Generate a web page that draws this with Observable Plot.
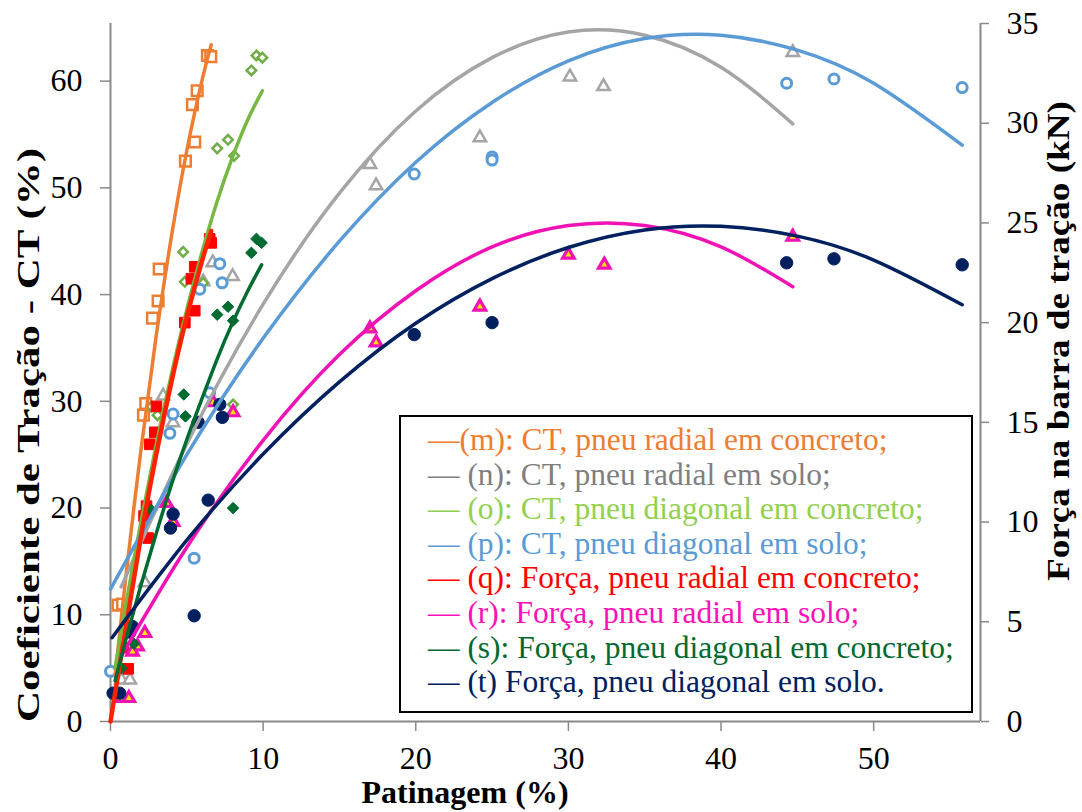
<!DOCTYPE html>
<html>
<head>
<meta charset="utf-8">
<script src="https://cdn.jsdelivr.net/npm/d3@7"></script>
<script src="https://cdn.jsdelivr.net/npm/@observablehq/plot@0.6"></script>
<style>
  body { margin: 0; background: #fff; }
  #wrap { position: relative; width: 1082px; height: 812px; overflow: hidden; background: #fff; }
  #wrap svg { position: absolute; left: 0; top: 0; }
  #legend {
    position: absolute; left: 399px; top: 415px; width: 574px; height: 298px;
    box-sizing: border-box; border: 2px solid #000; background: #fff;
    padding: 6px 0 0 27px;
    font-family: "Liberation Serif", "Times New Roman", serif; font-size: 31.5px; line-height: 34.6px;
    white-space: nowrap;
  }
</style>
</head>
<body>
<div id="wrap"><div id="legend"></div></div>
<script>
// ---------- axis ticks & titles ----------
const xTicks = [0, 10, 20, 30, 40, 50];
const ctTicks = [0, 10, 20, 30, 40, 50, 60];
const forceTicks = [0, 5, 10, 15, 20, 25, 30, 35];
const X_MAX = 57, CT_MAX = 65.4, FORCE_MAX = 35;
const xTitle = "Patinagem (%)";
const yLeftTitle = "Coeficiente de Tração - CT (%)";
const yRightTitle = "Força na barra de tração (kN)";

// ---------- legend labels ----------
const legendLabels = [
  "—(m): CT, pneu radial em concreto;",
  "— (n): CT, pneu radial em solo;",
  "— (o): CT, pneu diagonal em concreto;",
  "— (p): CT, pneu diagonal em solo;",
  "— (q): Força, pneu radial em concreto;",
  "— (r): Força, pneu radial em solo;",
  "— (s): Força, pneu diagonal em concreto;",
  "— (t) Força, pneu diagonal em solo."
];

// ---------- measured points (Patinagem %, CT % or Força kN) ----------
const mX = [6.35, 6.57, 5.68, 5.37, 5.52, 4.91, 3.19, 3.12, 2.75, 2.31, 2.16, 0.5, 0.79];
const mY = [62.4, 62.3, 59.1, 57.8, 54.3, 52.5, 42.4, 39.4, 37.8, 29.8, 28.7, 10.9, 11.0];

const nX = [44.7, 30.1, 32.3, 24.2, 17.0, 17.4, 6.7, 8.0, 6.07, 4.1, 3.45, 2.25, 0.72, 1.27];
const nY = [62.7, 60.4, 59.5, 54.7, 52.2, 50.2, 43.0, 41.7, 41.2, 28.0, 30.5, 13.0, 3.9, 3.9];

const oX = [9.56, 9.95, 9.23, 6.99, 7.7, 8.1, 4.76, 4.87, 6.07, 2.68, 3.08, 8.03];
const oY = [62.4, 62.2, 61.0, 53.7, 54.5, 53.0, 44.0, 41.2, 41.1, 29.5, 28.7, 29.7];

const pX = [44.3, 47.4, 55.8, 25.0, 25.0, 19.9, 7.16, 7.31, 5.85, 6.5, 4.1, 3.89, 5.48, 0.0];
const pY = [59.8, 60.2, 59.4, 52.9, 52.6, 51.3, 42.9, 41.1, 40.5, 30.8, 28.8, 27.0, 15.3, 4.7];

const qX = [6.5, 6.6, 5.52, 5.3, 5.52, 4.87, 3.01, 2.9, 2.57, 2.36, 2.2, 2.46, 1.16, 0.83];
const qY = [24.2, 24.0, 22.8, 22.2, 20.6, 20.0, 15.8, 14.5, 13.9, 10.8, 10.3, 9.2, 2.64, 3.7];

const rX = [44.7, 30.0, 32.35, 24.2, 17.0, 17.4, 8.03, 6.72, 3.67, 4.1, 2.25, 1.77, 1.44, 0.65, 1.2];
const rY = [24.3, 23.4, 22.9, 20.8, 19.7, 19.0, 15.5, 16.0, 10.95, 10.0, 4.43, 3.76, 3.5, 1.17, 1.17];

const sX = [9.56, 9.9, 9.23, 6.99, 7.7, 8.03, 4.8, 4.91, 2.68, 8.03, 1.53, 0.72];
const sY = [24.2, 24.0, 23.5, 20.4, 20.8, 20.1, 16.4, 15.3, 10.6, 10.7, 3.9, 2.67];

const tX = [44.3, 47.4, 55.8, 25.0, 19.9, 7.16, 7.33, 5.74, 6.4, 4.1, 3.93, 5.48, 1.44, 1.27, 0.17, 0.6];
const tY = [23.0, 23.2, 22.9, 20.0, 19.4, 15.9, 15.25, 15.0, 11.1, 10.4, 9.7, 5.3, 4.76, 4.48, 1.42, 1.42];

// ---------- trend curves ----------
const mCurveX = [0.3, 1, 2, 3, 4, 5, 6, 6.6];
const mCurveY = [4.3, 13.5, 25.5, 36.2, 45.5, 53.5, 60.1, 63.4];
const nCurveX = [0.7, 5, 10, 15, 20, 25, 30, 35, 40, 44.7];
const nCurveY = [12.6, 26.0, 39.1, 49.5, 57.2, 62.2, 64.6, 64.3, 61.3, 56.0];
const oCurveX = [0.3, 1, 2, 3, 4, 5, 6, 7, 8, 9, 9.95];
const oCurveY = [5.0, 10.9, 18.75, 26.0, 32.6, 38.6, 44.0, 48.8, 52.9, 56.4, 59.1];
const pCurveX = [0, 5, 10, 15, 20, 25, 30, 35, 40, 45, 50, 55.8];
const pCurveY = [12.4, 25.0, 35.9, 45.0, 52.4, 58.0, 61.9, 64.0, 64.3, 62.9, 59.8, 54.0];
const qCurveX = [0, 1, 2, 3, 4, 5, 6, 6.6];
const qCurveY = [0, 4.7, 9.3, 13.4, 17.05, 20.3, 23.1, 24.6];
const rCurveX = [0.65, 5, 10, 15, 20, 25, 30, 35, 40, 44.7];
const rCurveY = [3.2, 8.74, 14.1, 18.4, 21.6, 23.8, 24.87, 24.87, 23.8, 21.8];
const sCurveX = [0.3, 1, 2, 3, 4, 5, 6, 7, 8, 9, 9.9];
const sCurveY = [2.05, 4.08, 6.84, 9.44, 11.9, 14.14, 16.2, 18.2, 20.0, 21.6, 22.9];
const tCurveX = [0.1, 5, 10, 15, 20, 25, 30, 35, 40, 45, 50, 55.8];
const tCurveY = [4.2, 9.09, 13.41, 17.03, 19.97, 22.21, 23.77, 24.65, 24.83, 24.34, 23.14, 20.9];

// ---------- styling per series ----------
const series = [
  {axis: "ct",    px: mX, py: mY, cx: mCurveX, cy: mCurveY, symbol: "square",   r: 6.0, fill: "white",   stroke: "#ED7D31", sw: 2.5, line: "#ED7D31", lw: 3.5, legend: "#ED7D31"},
  {axis: "ct",    px: nX, py: nY, cx: nCurveX, cy: nCurveY, symbol: "triangle", r: 4.6, fill: "white",   stroke: "#A5A5A5", sw: 2.5, line: "#A5A5A5", lw: 3.5, legend: "#7F7F7F"},
  {axis: "ct",    px: oX, py: oY, cx: oCurveX, cy: oCurveY, symbol: "diamond2", r: 4.3, fill: "white",   stroke: "#70AD47", sw: 2.5, line: "#77B843", lw: 3.5, legend: "#92D050"},
  {axis: "ct",    px: pX, py: pY, cx: pCurveX, cy: pCurveY, symbol: "circle",   r: 5.0, fill: "white",   stroke: "#5B9BD5", sw: 3,   line: "#5B9BD5", lw: 3.5, legend: "#5B9BD5"},
  {axis: "force", px: qX, py: qY, cx: qCurveX, cy: qCurveY, symbol: "square",   r: 6.0, fill: "#FF0000", stroke: "#FF0000", sw: 1,   line: "#FF2200", lw: 4.5, legend: "#FF0000"},
  {axis: "force", px: rX, py: rY, cx: rCurveX, cy: rCurveY, symbol: "triangle", r: 4.3, fill: "#FFE000", stroke: "#F012B4", sw: 3.2, line: "#F012B4", lw: 3.5, legend: "#FF10B8"},
  {axis: "force", px: sX, py: sY, cx: sCurveX, cy: sCurveY, symbol: "diamond2", r: 5.2, fill: "#006B30", stroke: "#006B30", sw: 1,   line: "#006B30", lw: 3.5, legend: "#00692F"},
  {axis: "force", px: tX, py: tY, cx: tCurveX, cy: tCurveY, symbol: "circle",   r: 6.2, fill: "#002060", stroke: "#002060", sw: 1,   line: "#002060", lw: 3.5, legend: "#002060"}
];

const K = CT_MAX / FORCE_MAX; // CT units per kN on the shared vertical range
const conv = (s, v) => s.axis === "force" ? v * K : v;

const dotMarks = series.map(s => Plot.dot(
  s.px.map((x, i) => ({x, y: conv(s, s.py[i])})),
  {x: "x", y: "y", symbol: () => s.symbol, r: s.r, fill: s.fill, stroke: s.stroke, strokeWidth: s.sw}
));
const lineMarks = series.map(s => Plot.line(
  s.cx.map((x, i) => ({x, y: conv(s, s.cy[i])})),
  {x: "x", y: "y", stroke: s.line, strokeWidth: s.lw, curve: "natural"}
));

const axisGrey = "#898989";
const chart = Plot.plot({
  width: 1082, height: 812,
  marginLeft: 110, marginRight: 102, marginTop: 23, marginBottom: 91,
  x: {domain: [0, X_MAX]},
  y: {domain: [0, CT_MAX]},
  symbol: {type: "identity"},
  style: {fontFamily: "'Liberation Serif', 'Times New Roman', serif", fontSize: "32px", color: "black", background: "white", overflow: "visible"},
  marks: [
    Plot.axisX({ticks: xTicks, tickSize: 10, tickPadding: 15, stroke: axisGrey, strokeWidth: 1.5, fill: "black", label: null}),
    Plot.axisY({ticks: ctTicks, anchor: "left", tickSize: 10, tickPadding: 18, stroke: axisGrey, strokeWidth: 1.5, fill: "black", label: null}),
    Plot.axisY({ticks: forceTicks.map(v => v * K), anchor: "right", tickSize: 8, tickPadding: 18, stroke: axisGrey, strokeWidth: 1.5, fill: "black", label: null, tickFormat: d => String(Math.round(d / K))}),
    Plot.ruleX([0], {stroke: axisGrey, strokeWidth: 2}),
    Plot.ruleX([X_MAX], {stroke: axisGrey, strokeWidth: 2}),
    Plot.ruleY([0], {stroke: axisGrey, strokeWidth: 2}),
    ...dotMarks,
    ...lineMarks
  ]
});

document.getElementById("wrap").insertBefore(chart, document.getElementById("legend"));

// axis titles
const svg = d3.select(chart);
const titleFont = "bold 32px 'Liberation Serif', 'Times New Roman', serif";
svg.append("text")
  .attr("transform", "translate(465,792)")
  .attr("text-anchor", "middle").attr("dominant-baseline", "central")
  .style("font", titleFont).attr("fill", "black").text(xTitle);
svg.append("text")
  .attr("transform", "translate(28,435) rotate(-90)")
  .attr("text-anchor", "middle").attr("dominant-baseline", "central")
  .attr("textLength", 574).attr("lengthAdjust", "spacingAndGlyphs")
  .style("font", titleFont).attr("fill", "black").text(yLeftTitle);
svg.append("text")
  .attr("transform", "translate(1058,341) rotate(-90)")
  .attr("text-anchor", "middle").attr("dominant-baseline", "central")
  .attr("textLength", 480).attr("lengthAdjust", "spacingAndGlyphs")
  .style("font", titleFont).attr("fill", "black").text(yRightTitle);

// legend
const legend = d3.select("#legend");
legendLabels.forEach((label, i) => {
  legend.append("div").style("color", series[i].legend).text(label);
});
</script>
</body>
</html>
